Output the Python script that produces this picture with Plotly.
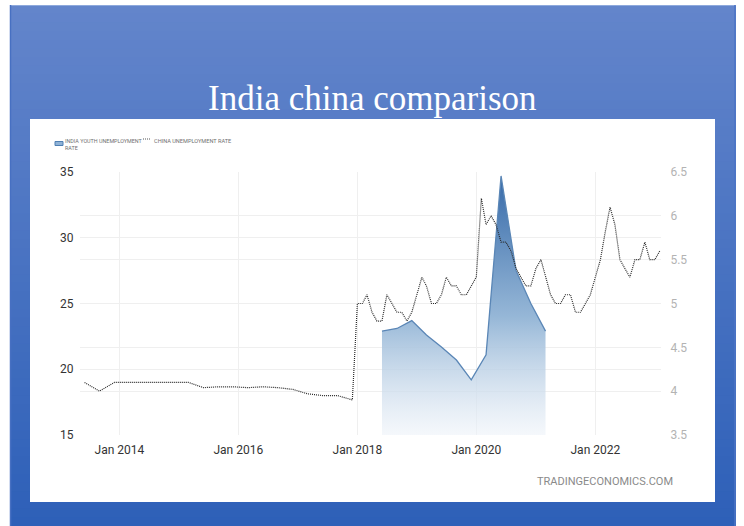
import pandas as pd
import plotly.graph_objects as go

# ---- data -------------------------------------------------------------
# China unemployment rate (%, right axis): quarterly registered rate, then monthly surveyed rate
china_quarter_dates = pd.date_range("2013-06-01", "2017-12-01", freq="3MS")
china_quarter_values = [4.10, 4.00, 4.10,
                        4.10, 4.10, 4.10, 4.10,
                        4.10, 4.04, 4.05, 4.05,
                        4.04, 4.05, 4.04, 4.02,
                        3.97, 3.95, 3.95, 3.90]
china_month_dates = pd.date_range("2018-01-01", "2023-02-01", freq="MS")
china_month_values = [5.0, 5.0, 5.1, 4.9, 4.8, 4.8, 5.1, 5.0, 4.9, 4.9, 4.8, 4.9,
                      5.1, 5.3, 5.2, 5.0, 5.0, 5.1, 5.3, 5.2, 5.2, 5.1, 5.1, 5.2,
                      5.3, 6.2, 5.9, 6.0, 5.9, 5.7, 5.7, 5.6, 5.4, 5.3, 5.2, 5.2,
                      5.4, 5.5, 5.3, 5.1, 5.0, 5.0, 5.1, 5.1, 4.9, 4.9, 5.0, 5.1,
                      5.3, 5.5, 5.8, 6.1, 5.9, 5.5, 5.4, 5.3, 5.5, 5.5, 5.7, 5.5,
                      5.5, 5.6]

# India youth unemployment rate (%, left axis), quarterly
india_dates = pd.date_range("2018-06-01", "2021-03-01", freq="3MS")
india_values = [22.9, 23.1, 23.7, 22.6, 21.7, 20.7, 19.2, 21.1, 34.7, 27.5, 25.0, 22.9]

left_ticks = [15, 20, 25, 30, 35]
right_ticks = [3.5, 4, 4.5, 5, 5.5, 6, 6.5]
right_tick_text = ["3.5", "4", "4.5", "5", "5.5", "6", "6.5"]
x_ticks = ["2014-01-01", "2016-01-01", "2018-01-01", "2020-01-01", "2022-01-01"]
x_tick_text = ["Jan 2014", "Jan 2016", "Jan 2018", "Jan 2020", "Jan 2022"]

title_text = "India china comparison"
india_label = "INDIA YOUTH UNEMPLOYMENT<br>RATE"
china_label = "CHINA UNEMPLOYMENT RATE"
source_text = "TRADINGECONOMICS.COM"

# ---- page geometry (pixels) -------------------------------------------
W, H = 744, 526
PL, PR, PT, PB = 80, 661, 172, 435   # plot area edges


def px_x(x):
    return (x - PL) / (PR - PL)


def px_y(y):
    return (PB - y) / (PB - PT)


chart_font = "Roboto, Arial"

fig = go.Figure()

# India series: gradient filled area
fig.add_trace(go.Scatter(
    x=india_dates, y=india_values, mode="lines",
    line=dict(color="#5a86b6", width=1.3),
    fill="tozeroy",
    fillgradient=dict(
        type="vertical", start=15, stop=35,
        colorscale=[[0.0, "rgba(238,243,249,0.6)"],
                    [0.45, "rgb(150,183,215)"],
                    [1.0, "rgb(52,104,168)"]]),
    yaxis="y", showlegend=False, hoverinfo="skip",
))

# China series: dotted line on the right axis
china_dates = list(china_quarter_dates) + list(china_month_dates)
china_values = china_quarter_values + china_month_values
fig.add_trace(go.Scatter(
    x=china_dates, y=china_values, mode="lines",
    line=dict(color="#2a2a2a", width=1.2, dash="1px,1px"),
    yaxis="y2", showlegend=False, hoverinfo="skip",
))

shapes = []

# slide background: vertical blue gradient built from overlapping strips
top_c = (99, 133, 203)
bot_c = (46, 96, 184)
y0, y1 = 5, 526
n = 60
for i in range(n):
    a = y0 + (y1 - y0) * i / n
    b = y0 + (y1 - y0) * (i + 1) / n
    t = i / (n - 1)
    c = tuple(round(top_c[k] + (bot_c[k] - top_c[k]) * t) for k in range(3))
    shapes.append(dict(type="rect", xref="paper", yref="paper", layer="below",
                       x0=px_x(10), x1=px_x(736), y0=px_y(min(b + 3, y1)), y1=px_y(a),
                       fillcolor="rgb(%d,%d,%d)" % c,
                       line=dict(width=0, color="rgb(%d,%d,%d)" % c)))
# slide edges
shapes.append(dict(type="line", xref="paper", yref="paper", layer="below",
                   x0=px_x(10), x1=px_x(736), y0=px_y(5.5), y1=px_y(5.5),
                   line=dict(color="#8ea9dc", width=1)))
shapes.append(dict(type="line", xref="paper", yref="paper", layer="below",
                   x0=px_x(10.5), x1=px_x(10.5), y0=px_y(5), y1=px_y(526),
                   line=dict(color="#4770c2", width=1.5)))
shapes.append(dict(type="line", xref="paper", yref="paper", layer="below",
                   x0=px_x(735), x1=px_x(735), y0=px_y(5), y1=px_y(526),
                   line=dict(color="#4d74c4", width=1.5)))

# white chart panel
shapes.append(dict(type="rect", xref="paper", yref="paper", layer="below",
                   x0=px_x(30), x1=px_x(715), y0=px_y(502), y1=px_y(119),
                   fillcolor="white", line=dict(width=0)))

# legend swatches
shapes.append(dict(type="rect", xref="paper", yref="paper", layer="above",
                   x0=px_x(55), x1=px_x(63), y0=px_y(145.5), y1=px_y(141.5),
                   fillcolor="#8fb2d6", line=dict(color="#4f7fb2", width=1)))
shapes.append(dict(type="line", xref="paper", yref="paper", layer="above",
                   x0=px_x(143), x1=px_x(150), y0=px_y(139), y1=px_y(139),
                   line=dict(color="#555555", width=1, dash="1px,1px")))

annotations = [
    dict(text=title_text, xref="paper", yref="paper", x=px_x(372), y=px_y(98),
         xanchor="center", yanchor="middle", showarrow=False,
         font=dict(family="Liberation Serif, Times New Roman, serif", size=35, color="white")),
    dict(text=india_label, xref="paper", yref="paper", x=px_x(63), y=px_y(135.5),
         xanchor="left", yanchor="top", align="left", showarrow=False,
         font=dict(family=chart_font, size=5.4, color="#6f6f6f")),
    dict(text=china_label, xref="paper", yref="paper", x=px_x(152), y=px_y(135.5),
         xanchor="left", yanchor="top", align="left", showarrow=False,
         font=dict(family=chart_font, size=5.6, color="#6f6f6f")),
    dict(text=source_text, xref="paper", yref="paper", x=px_x(675), y=px_y(481),
         xanchor="right", yanchor="middle", showarrow=False,
         font=dict(family=chart_font, size=11, color="#8a8a8a")),
]

fig.update_layout(
    width=W, height=H,
    margin=dict(l=PL, r=W - PR, t=PT, b=H - PB, pad=0),
    paper_bgcolor="white",
    plot_bgcolor="rgba(0,0,0,0)",
    showlegend=False,
    shapes=shapes,
    annotations=annotations,
    xaxis=dict(
        type="date", range=["2013-05-04", "2023-02-08"],
        tickvals=x_ticks, ticktext=x_tick_text,
        showgrid=True, gridcolor="#efefef", gridwidth=1,
        zeroline=False, showline=False, ticks="outside", ticklen=4,
        tickcolor="rgba(0,0,0,0)",
        tickfont=dict(family=chart_font, size=12, color="#333333"),
    ),
    yaxis=dict(
        range=[15, 35], tickvals=left_ticks,
        showgrid=True, gridcolor="#efefef", gridwidth=1,
        zeroline=False, showline=False, ticks="outside", ticklen=3,
        tickcolor="rgba(0,0,0,0)",
        tickfont=dict(family=chart_font, size=12, color="#333333"),
    ),
    yaxis2=dict(
        range=[3.5, 6.5], tickvals=right_ticks, ticktext=right_tick_text,
        overlaying="y", side="right",
        showgrid=True, gridcolor="#efefef", gridwidth=1,
        zeroline=False, showline=False, ticks="outside", ticklen=6,
        tickcolor="rgba(0,0,0,0)",
        tickfont=dict(family=chart_font, size=12, color="#b3b3b3"),
    ),
)

fig.write_html("out.html", config={"displayModeBar": False})
